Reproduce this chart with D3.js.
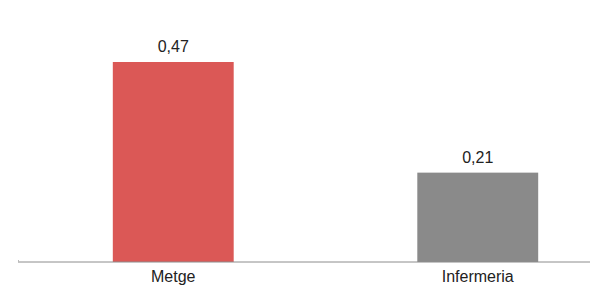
<!DOCTYPE html>
<html>
<head>
<meta charset="utf-8">
<script src="https://cdn.jsdelivr.net/npm/d3@7"></script>
<style>
  body { margin: 0; background: #fff; }
  #chart { width: 595px; height: 293px; }
  text { font-family: "Liberation Sans", Arial, sans-serif; fill: #222; }
</style>
</head>
<body>
<div id="chart"></div>
<script>
// Chart data
const categories = ["Metge", "Infermeria"];
const values = [0.47, 0.21];
const barColors = ["#db5856", "#8a8a8a"];

const width = 595;
const height = 293;
const baseY = 262;

// Scales
const x = d3
  .scaleBand()
  .domain(categories)
  .range([21, 630])
  .paddingInner(0.603)
  .paddingOuter(0.3015);

const y = d3
  .scaleLinear()
  .domain([0, 0.47])
  .range([baseY, 62]);

const svg = d3
  .select("#chart")
  .append("svg")
  .attr("width", width)
  .attr("height", height)
  .attr("viewBox", [0, 0, width, height]);

// Bars
svg
  .append("g")
  .selectAll("rect")
  .data(categories)
  .join("rect")
  .attr("x", (d) => x(d))
  .attr("y", (d, i) => y(values[i]))
  .attr("width", x.bandwidth())
  .attr("height", (d, i) => y(0) - y(values[i]))
  .attr("fill", (d, i) => barColors[i]);

// Value labels
svg
  .append("g")
  .selectAll("text")
  .data(categories)
  .join("text")
  .attr("x", (d) => x(d) + x.bandwidth() / 2)
  .attr("y", (d, i) => y(values[i]) - 10)
  .attr("text-anchor", "middle")
  .attr("font-size", 16)
  .text((d, i) => d3.format(".2f")(values[i]).replace(".", ","));

// Horizontal axis
const axis = svg
  .append("g")
  .attr("transform", `translate(0,${baseY})`)
  .call(d3.axisBottom(x).tickSize(0).tickPadding(9));

axis.select(".domain").remove();
axis
  .append("line")
  .attr("x1", 18)
  .attr("x2", 590)
  .attr("stroke", "#8c8c8c")
  .attr("stroke-width", 1);
axis
  .append("line")
  .attr("x1", 18.5)
  .attr("x2", 18.5)
  .attr("y1", -2)
  .attr("y2", 0)
  .attr("stroke", "#bbb");
axis
  .selectAll(".tick text")
  .attr("font-family", "Liberation Sans, Arial, sans-serif")
  .attr("font-size", 16)
  .attr("fill", "#222");
</script>
</body>
</html>
